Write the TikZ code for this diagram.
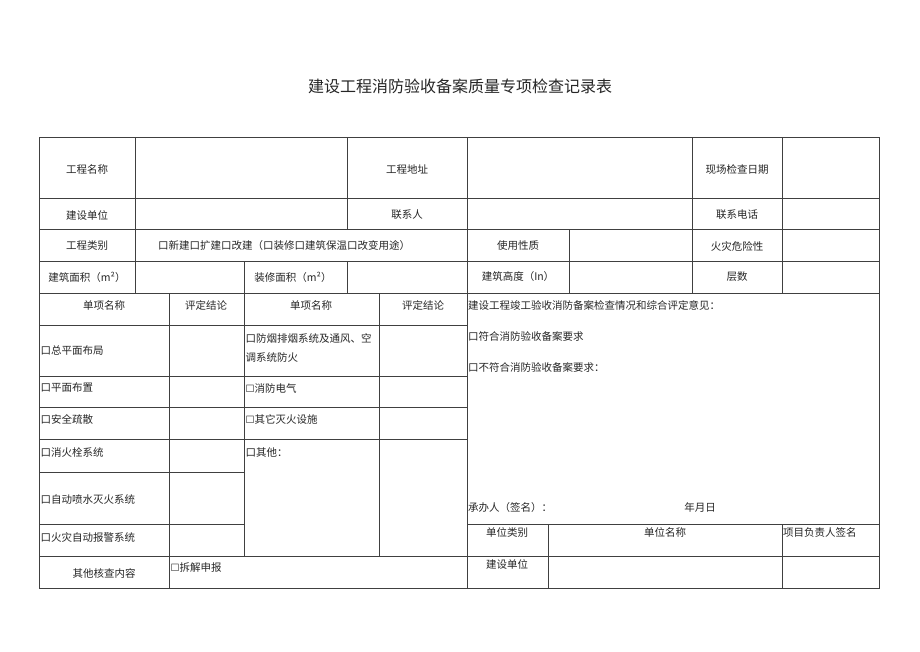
\documentclass[tikz,border=0pt]{standalone}
\usepackage{fontspec}
\newfontfamily\cjk{Noto Sans CJK SC}
\newfontfamily\symf{DejaVu Sans}
\tikzset{
  cell/.style={font=\cjk\fontsize{10.5}{12}\selectfont, inner sep=0pt, text=black!85},
  lcell/.style={cell, anchor=west},
  grid/.style={line width=0.7pt, black!75}
}
\newcommand{\ebox}{{\symf\fontsize{10}{12}\selectfont ☐}}
\begin{document}
\begin{tikzpicture}[x=1pt,y=-1pt]
  \useasboundingbox[fill=white] (0,0) rectangle (920,651);

  \node[cell, font=\cjk\fontsize{16}{18}\selectfont] (title) at (460,86) {建设工程消防验收备案质量专项检查记录表};

  % 外框
  \draw[grid] (39,137) rectangle (879,588);

  % 横线
  \foreach \y in {198,229,261,293,556} {
    \draw[grid] (39,\y) -- (879,\y);
  }
  \foreach \y in {325,376,407,439} {
    \draw[grid] (39,\y) -- (467,\y);
  }
  \draw[grid] (39,472) -- (244,472);
  \draw[grid] (39,524) -- (244,524);
  \draw[grid] (467,524) -- (879,524);

  % 竖线
  \draw[grid] (135,137) -- (135,293);
  \draw[grid] (347,137) -- (347,229);
  \draw[grid] (347,261) -- (347,293);
  \draw[grid] (467,137) -- (467,588);
  \draw[grid] (569,229) -- (569,293);
  \draw[grid] (692,137) -- (692,293);
  \draw[grid] (782,137) -- (782,293);
  \draw[grid] (244,261) -- (244,556);
  \draw[grid] (169,293) -- (169,588);
  \draw[grid] (379,293) -- (379,556);
  \draw[grid] (548,524) -- (548,588);
  \draw[grid] (782,524) -- (782,588);

  % 上半部分
  \node[cell] (name) at (87,169) {工程名称};
  \node[cell] (addr) at (407,169) {工程地址};
  \node[cell] (date) at (737,169) {现场检查日期};
  \node[cell] (unit) at (87,215) {建设单位};
  \node[cell] (contact) at (407,215) {联系人};
  \node[cell] (phone) at (737,215) {联系电话};
  \node[cell] (kind) at (87,246) {工程类别};
  \node[lcell] (kindopt) at (158,246) {口新建口扩建口改建（口装修口建筑保温口改变用途）};
  \node[cell] (usage) at (518,246) {使用性质};
  \node[cell] (fire) at (737,246) {火灾危险性};
  \node[cell] (area) at (87,277) {建筑面积（m²）};
  \node[cell] (decoarea) at (293,277) {装修面积（m²）};
  \node[cell] (height) at (518,277) {建筑高度（In）};
  \node[cell] (floors) at (737,277) {层数};

  % 单项
  \node[cell] (itemA) at (104,305) {单项名称};
  \node[cell] (evalA) at (206,305) {评定结论};
  \node[cell] (itemB) at (311,305) {单项名称};
  \node[cell] (evalB) at (423,305) {评定结论};

  \node[lcell] (layout) at (40.5,351) {口总平面布局};
  \node[lcell] (smokeA) at (245.5,338) {口防烟排烟系统及通风、空};
  \node[lcell] (smokeB) at (245.5,357) {调系统防火};
  \node[lcell] (plan) at (40.5,388) {口平面布置};
  \node[lcell] (elec) at (245.5,388) {\ebox 消防电气};
  \node[lcell] (evac) at (40.5,419) {口安全疏散};
  \node[lcell] (extg) at (245.5,419) {\ebox 其它灭火设施};
  \node[lcell] (hydrant) at (40.5,452) {口消火栓系统};
  \node[lcell] (other) at (245.5,452) {口其他：};
  \node[lcell] (sprinkler) at (40.5,499) {口自动喷水灭火系统};
  \node[lcell] (alarm) at (40.5,537) {口火灾自动报警系统};
  \node[cell] (check) at (104,573) {其他核查内容};
  \node[lcell] (dismantle) at (170.5,568) {\ebox 拆解申报};

  % 评定意见
  \node[lcell] (opinion) at (468,305) {建设工程竣工验收消防备案检查情况和综合评定意见：};
  \node[lcell] (pass) at (468,336) {口符合消防验收备案要求};
  \node[lcell] (fail) at (468,367) {口不符合消防验收备案要求：};
  \node[lcell] (sign) at (468,507) {承办人（签名）：};
  \node[cell] (ymd) at (700,507) {年月日};

  \node[cell] (unitkind) at (507,532) {单位类别};
  \node[cell] (unitname) at (665,532) {单位名称};
  \node[lcell] (leader) at (783,532) {项目负责人签名};
  \node[cell] (builder) at (507,564) {建设单位};
\end{tikzpicture}
\end{document}
